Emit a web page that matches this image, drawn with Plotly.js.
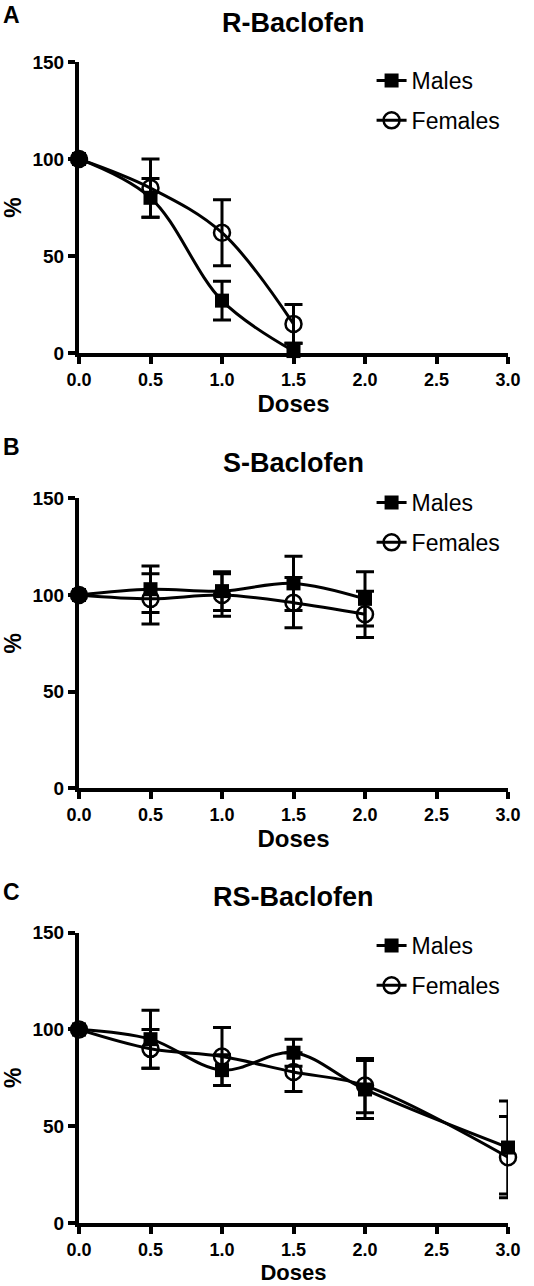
<!DOCTYPE html>
<html>
<head>
<meta charset="utf-8">
<script src="https://cdn.plot.ly/plotly-3.0.1.min.js"></script>
<style>html,body{margin:0;padding:0;background:#fff;}#chart{width:534px;height:1286px;}</style>
</head>
<body>
<div id="chart"></div>
<script>
// ---- data ----
const panelTitles = ["R-Baclofen", "S-Baclofen", "RS-Baclofen"];
const panelLetters = ["A", "B", "C"];
const seriesNames = ["Males", "Females"];

const dosesA = [0, 0.5, 1.0, 1.5];
const rMales = [100, 80, 27, 1];
const rMalesErr = [0, 10, 10, 4];
const rFemales = [100, 85, 62, 15];
const rFemalesErr = [0, 15, 17, 10];

const dosesB = [0, 0.5, 1.0, 1.5, 2.0];
const sMales = [100, 103, 102, 106, 98];
const sMalesErr = [0, 12, 10, 14, 14];
const sFemales = [100, 98, 100, 96, 90];
const sFemalesErr = [0, 13, 11, 13, 12];

const dosesC = [0, 0.5, 1.0, 1.5, 2.0, 3.0];
const rsMales = [100, 95, 79, 88, 69, 39];
const rsMalesErr = [0, 15, 8, 7, 15, 24];
const rsFemales = [100, 90, 86, 78, 71, 34];
const rsFemalesErr = [0, 10, 15, 10, 14, 21];

const xTicks = [0, 0.5, 1.0, 1.5, 2.0, 2.5, 3.0];
const xTickText = ["0.0", "0.5", "1.0", "1.5", "2.0", "2.5", "3.0"];
const yTicks = [0, 50, 100, 150];
const yTickText = ["0", "50", "100", "150"];

// ---- styling ----
const FONT = "Liberation Sans, Arial, sans-serif";
const panels = [
  {x: dosesA, m: rMales, me: rMalesErr, f: rFemales, fe: rFemalesErr, dom: [0.7255, 0.9518],
   legTop: 59, titleY: 23, letterY: 15, doseStandoff: 4, doseSize: 24},
  {x: dosesB, m: sMales, me: sMalesErr, f: sFemales, fe: sFemalesErr, dom: [0.3870, 0.6125],
   legTop: 481, titleY: 463, letterY: 447, doseStandoff: 4, doseSize: 24},
  {x: dosesC, m: rsMales, me: rsMalesErr, f: rsFemales, fe: rsFemalesErr, dom: [0.0490, 0.2747],
   legTop: 924, titleY: 897, letterY: 892, doseStandoff: 4, doseSize: 22}
];

const traces = [];
const layout = {
  width: 534, height: 1286,
  margin: {l: 79, r: 26, t: 0, b: 0},
  paper_bgcolor: "#fff", plot_bgcolor: "#fff",
  showlegend: true,
  font: {family: FONT, color: "#000"},
  annotations: []
};

const bold = (s) => "<b>" + s + "</b>";

panels.forEach((p, i) => {
  const n = i === 0 ? "" : String(i + 1);
  const xa = "x" + n, ya = "y" + n;
  const leg = "legend" + n;
  const errStyle = (arr) => ({type: "data", array: arr, visible: true, color: "#000", thickness: 3, width: 9});
  traces.push({
    x: p.x, y: p.m, name: seriesNames[0], type: "scatter", mode: "lines+markers",
    xaxis: xa, yaxis: ya, legend: leg, legendgroup: "m" + i, cliponaxis: false,
    line: {color: "#000", width: 3, shape: "spline"},
    marker: {symbol: "square", size: 14, color: "#000"},
    error_y: errStyle(p.me)
  });
  traces.push({
    x: p.x, y: p.f, name: seriesNames[1], type: "scatter", mode: "lines+markers",
    xaxis: xa, yaxis: ya, legend: leg, legendgroup: "f" + i, cliponaxis: false,
    line: {color: "#000", width: 3, shape: "spline"},
    marker: {symbol: "circle-open", size: 16, color: "#000", line: {width: 2.5, color: "#000"}},
    error_y: errStyle(p.fe)
  });
  layout["xaxis" + n] = {
    domain: [0, 1], anchor: ya, range: [0, 3], tickvals: xTicks,
    ticktext: xTickText.map(bold),
    showline: true, linewidth: 4, linecolor: "#000", showgrid: false, zeroline: false,
    ticks: "outside", ticklen: 7, tickwidth: 4, tickcolor: "#000",
    tickfont: {family: FONT, size: 18, color: "#000", weight: "bold"},
    title: {text: bold("Doses"), font: {family: FONT, size: p.doseSize, color: "#000", weight: "bold"}, standoff: p.doseStandoff},
    fixedrange: true
  };
  layout["yaxis" + n] = {
    domain: p.dom, anchor: xa, range: [0, 150], tickvals: yTicks,
    ticktext: yTickText.map(bold),
    showline: true, linewidth: 4, linecolor: "#000", showgrid: false, zeroline: false,
    ticks: "outside", ticklen: 7, tickwidth: 4, tickcolor: "#000",
    tickfont: {family: FONT, size: 19, color: "#000", weight: "bold"},
    title: {text: bold("%"), font: {family: FONT, size: 23, color: "#000", weight: "bold"}, standoff: 12},
    fixedrange: true
  };
  layout[leg] = {
    x: 0.682, xanchor: "left", y: 1 - p.legTop / 1286, yanchor: "top",
    bgcolor: "rgba(0,0,0,0)", borderwidth: 0, itemwidth: 30,
    tracegroupgap: 7,
    font: {family: FONT, size: 23, color: "#000"}
  };
  layout.annotations.push({
    xref: "paper", yref: "paper", x: 0.5, y: 1 - p.titleY / 1286, xanchor: "center", yanchor: "middle",
    text: bold(panelTitles[i]), showarrow: false,
    font: {family: FONT, size: 27, color: "#000", weight: "bold"}
  });
  layout.annotations.push({
    xref: "paper", yref: "paper", x: -78 / 429, y: 1 - p.letterY / 1286, xanchor: "left", yanchor: "middle",
    text: bold(panelLetters[i]), showarrow: false,
    font: {family: FONT, size: 23, color: "#000", weight: "bold"}
  });
});

Plotly.newPlot("chart", traces, layout, {displayModeBar: false, staticPlot: true});
</script>
</body>
</html>
